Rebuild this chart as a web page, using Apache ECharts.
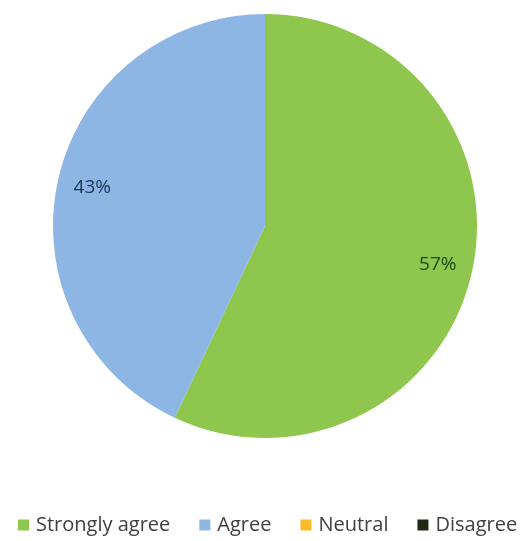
<!DOCTYPE html>
<html>
<head>
<meta charset="utf-8">
<script src="https://cdn.jsdelivr.net/npm/echarts@6/dist/echarts.min.js"></script>
<style>
html,body{margin:0;padding:0;background:#fff;}
#chart{width:528px;height:541px;}
</style>
</head>
<body>
<div id="chart"></div>
<script>
var categories = ['Strongly agree', 'Agree', 'Neutral', 'Disagree'];
var values = [57, 43, 0, 0];
var colors = ['#8fc64e', '#8db6e4', '#fcbc2a', '#1e2a14'];
var labelColors = ['#1f4a16', '#1a3550', '#333', '#333'];

var pieData = categories.map(function (c, i) {
  return { name: c, value: values[i], itemStyle: { color: colors[i] } };
});
var labelData = categories.map(function (c, i) {
  return { name: c, value: values[i], label: { color: labelColors[i] } };
});

var chart = echarts.init(document.getElementById('chart'), null, { renderer: 'canvas' });
chart.setOption({
  backgroundColor: '#ffffff',
  animation: false,
  legend: {
    data: categories,
    top: 515,
    left: 18,
    padding: 0,
    icon: 'rect',
    itemWidth: 11,
    itemHeight: 11,
    itemGap: 29,
    textStyle: { fontFamily: 'Open Sans', fontSize: 20, color: '#404040', padding: [0, 0, 0, 2] }
  },
  series: [
    {
      type: 'pie',
      center: [265, 226],
      radius: [0, 212],
      startAngle: 90,
      clockwise: true,
      data: pieData,
      label: { show: false },
      labelLine: { show: false },
      itemStyle: { borderWidth: 0 },
      emphasis: { disabled: true }
    },
    {
      type: 'pie',
      center: [265, 226],
      radius: [136, 212],
      startAngle: 90,
      clockwise: true,
      silent: true,
      data: labelData,
      itemStyle: { color: 'rgba(0,0,0,0)', borderWidth: 0 },
      label: {
        show: true,
        position: 'inside',
        fontFamily: 'Open Sans',
        fontSize: 19,
        formatter: function (p) { return p.value > 0 ? p.value + '%' : ''; }
      },
      labelLine: { show: false },
      emphasis: { disabled: true }
    }
  ]
});
</script>
</body>
</html>
